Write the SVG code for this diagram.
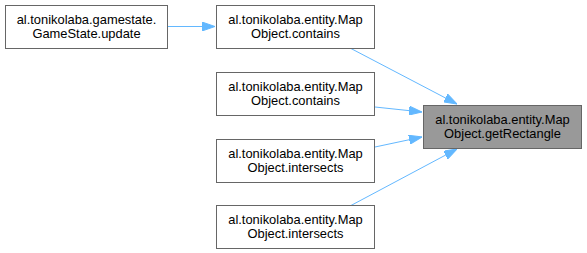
<svg xmlns="http://www.w3.org/2000/svg" width="587" height="253" viewBox="0 0 587 253">
  <style>
    .node rect { fill: #ffffff; stroke: #666666; stroke-width: 1; }
    .node.focus rect { fill: #999999; }
    .node text { font-family: "Liberation Sans", Arial, sans-serif; font-size: 12.9px; fill: #000000; text-anchor: middle; }
    .edge { stroke: #63b8ff; stroke-width: 1; fill: none; marker-end: url(#arrow); }
  </style>
  <defs>
    <marker id="arrow" viewBox="0 0 13 9" refX="13" refY="4.5" markerWidth="13" markerHeight="9" markerUnits="userSpaceOnUse" orient="auto">
      <path d="M0,0 L13,4.5 L0,9 Z" fill="#63b8ff" stroke="#63b8ff" stroke-width="1"/>
    </marker>
  </defs>
  <rect width="587" height="253" fill="#ffffff"/>

  <g id="edges">
    <line class="edge" x1="168" y1="26.5" x2="215" y2="26.5"/>
    <line class="edge" x1="350" y1="48" x2="457" y2="104"/>
    <line class="edge" x1="375" y1="107" x2="422" y2="112"/>
    <line class="edge" x1="375" y1="147" x2="422" y2="137"/>
    <line class="edge" x1="350" y1="206" x2="457" y2="149"/>
  </g>

  <g id="node-gamestate-update" class="node">
    <rect x="5.5" y="5.5" width="162" height="43"/>
    <text x="86.5" y="24">al.tonikolaba.gamestate.</text>
    <text x="86.5" y="38">GameState.update</text>
  </g>

  <g id="node-contains-1" class="node">
    <rect x="216.5" y="5.5" width="158" height="43"/>
    <text x="295.5" y="24">al.tonikolaba.entity.Map</text>
    <text x="295.5" y="38">Object.contains</text>
  </g>

  <g id="node-contains-2" class="node">
    <rect x="216.5" y="72.5" width="158" height="43"/>
    <text x="295.5" y="91">al.tonikolaba.entity.Map</text>
    <text x="295.5" y="105">Object.contains</text>
  </g>

  <g id="node-intersects-1" class="node">
    <rect x="216.5" y="139.5" width="158" height="43"/>
    <text x="295.5" y="158">al.tonikolaba.entity.Map</text>
    <text x="295.5" y="172">Object.intersects</text>
  </g>

  <g id="node-intersects-2" class="node">
    <rect x="216.5" y="205.5" width="158" height="43"/>
    <text x="295.5" y="224">al.tonikolaba.entity.Map</text>
    <text x="295.5" y="238">Object.intersects</text>
  </g>

  <g id="node-get-rectangle" class="node focus">
    <rect x="423.5" y="105.5" width="158" height="43"/>
    <text x="502.5" y="124">al.tonikolaba.entity.Map</text>
    <text x="502.5" y="138">Object.getRectangle</text>
  </g>
</svg>
